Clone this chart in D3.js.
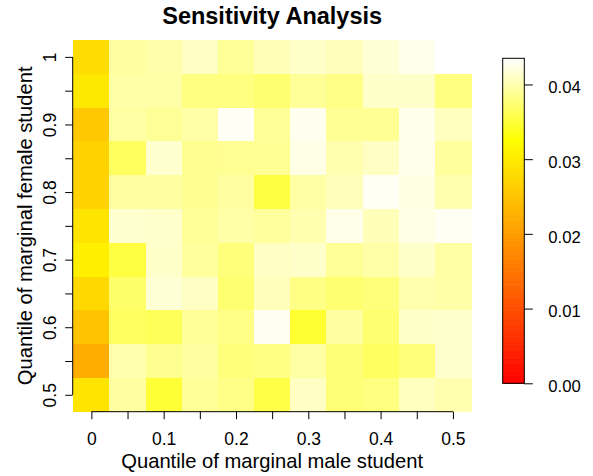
<!DOCTYPE html>
<html>
<head>
<meta charset="utf-8">
<script src="https://cdn.jsdelivr.net/npm/d3@7"></script>
<style>
  body { margin: 0; background: #fff; }
  svg { display: block; font-family: "Liberation Sans", Arial, sans-serif; }
</style>
</head>
<body>
<div id="chart"></div>
<script>
// quantiles of marginal male student (columns) and female student (rows)
const maleQuantiles = [0, 0.05, 0.1, 0.15, 0.2, 0.25, 0.3, 0.35, 0.4, 0.45, 0.5];
const femaleQuantiles = [1, 0.95, 0.9, 0.85, 0.8, 0.75, 0.7, 0.65, 0.6, 0.55, 0.5];

// one row per female quantile (top to bottom), one value per male quantile
const sensitivity = [
  [0.0283, 0.0395, 0.0399, 0.0410, 0.0391, 0.0405, 0.0412, 0.0406, 0.0417, 0.0427, null],
  [0.0297, 0.0398, 0.0398, 0.0381, 0.0381, 0.0374, 0.0391, 0.0384, 0.0412, 0.0412, 0.0381],
  [0.0256, 0.0396, 0.0391, 0.0398, 0.0431, 0.0391, 0.0428, 0.0390, 0.0389, 0.0427, 0.0408],
  [0.0269, 0.0366, 0.0415, 0.0388, 0.0389, 0.0389, 0.0424, 0.0401, 0.0410, 0.0427, 0.0393],
  [0.0269, 0.0395, 0.0395, 0.0388, 0.0395, 0.0354, 0.0396, 0.0406, 0.0430, 0.0422, 0.0400],
  [0.0292, 0.0415, 0.0413, 0.0391, 0.0398, 0.0393, 0.0401, 0.0425, 0.0405, 0.0424, 0.0430],
  [0.0307, 0.0354, 0.0412, 0.0393, 0.0379, 0.0410, 0.0412, 0.0391, 0.0398, 0.0412, 0.0396],
  [0.0276, 0.0371, 0.0417, 0.0410, 0.0374, 0.0406, 0.0383, 0.0374, 0.0379, 0.0400, 0.0398],
  [0.0251, 0.0367, 0.0364, 0.0391, 0.0384, 0.0429, 0.0347, 0.0395, 0.0374, 0.0412, 0.0413],
  [0.0223, 0.0400, 0.0388, 0.0395, 0.0379, 0.0383, 0.0396, 0.0377, 0.0367, 0.0379, 0.0413],
  [0.0292, 0.0395, 0.0350, 0.0391, 0.0384, 0.0357, 0.0410, 0.0377, 0.0381, 0.0408, 0.0401]
];

const xTickLabels = ["0", "0.1", "0.2", "0.3", "0.4", "0.5"];
const yTickLabels = ["0.5", "0.6", "0.7", "0.8", "0.9", "1"];
const legendTicks = [0, 0.01, 0.02, 0.03, 0.04];
const zRange = [0, 0.0435];

const width = 593, height = 476;
const plot = { left: 73.3, right: 471, top: 40, bottom: 411.7 };
const half = 0.025;
const fontFamily = "Liberation Sans, Arial, sans-serif";

const svg = d3.select("#chart").append("svg")
  .attr("width", width)
  .attr("height", height);

const x = d3.scaleLinear()
  .domain([d3.min(maleQuantiles) - half, d3.max(maleQuantiles) + half])
  .range([plot.left, plot.right]);
const y = d3.scaleLinear()
  .domain([d3.min(femaleQuantiles) - half, d3.max(femaleQuantiles) + half])
  .range([plot.bottom, plot.top]);

// heat colours: red -> yellow over the first 3/4, then yellow -> white
function heat(v) {
  const t = Math.max(0, Math.min(1, (v - zRange[0]) / (zRange[1] - zRange[0])));
  if (t <= 0.75) return d3.rgb(255, 255 * t / 0.75, 0);
  return d3.rgb(255, 255, 255 * (t - 0.75) / 0.25);
}

// cells
const cells = [];
sensitivity.forEach((row, i) => {
  row.forEach((v, j) => {
    if (v !== null) cells.push({ mx: maleQuantiles[j], fy: femaleQuantiles[i], v: v });
  });
});

svg.append("g").selectAll("rect")
  .data(cells)
  .enter().append("rect")
  .attr("x", d => x(d.mx - half))
  .attr("y", d => y(d.fy + half))
  .attr("width", d => x(d.mx + half) - x(d.mx - half) + 0.5)
  .attr("height", d => y(d.fy - half) - y(d.fy + half) + 0.5)
  .attr("fill", d => heat(d.v))
  .attr("shape-rendering", "crispEdges");

const labelFormat = d => d3.format("~g")(+d.toFixed(2));

// x axis
const xAxis = svg.append("g")
  .attr("transform", `translate(0,${plot.bottom})`)
  .call(d3.axisBottom(x).tickValues(maleQuantiles).tickSize(7.5)
    .tickFormat(d => xTickLabels.includes(labelFormat(d)) ? labelFormat(d) : ""));
xAxis.select(".domain").remove();
xAxis.append("line")
  .attr("x1", x(maleQuantiles[0])).attr("x2", x(maleQuantiles[maleQuantiles.length - 1]))
  .attr("stroke", "#000");
xAxis.selectAll(".tick line").attr("stroke", "#000");
xAxis.selectAll(".tick text")
  .attr("y", 33).attr("dy", null)
  .attr("font-size", 17.5).attr("fill", "#000")
  .attr("font-family", fontFamily);

// y axis
const yAxis = svg.append("g")
  .attr("transform", `translate(${plot.left - 0.6},0)`)
  .call(d3.axisLeft(y).tickValues(femaleQuantiles).tickSize(7.5)
    .tickFormat(d => yTickLabels.includes(labelFormat(d)) ? labelFormat(d) : ""));
yAxis.select(".domain").remove();
yAxis.append("line")
  .attr("y1", y(femaleQuantiles[0])).attr("y2", y(femaleQuantiles[femaleQuantiles.length - 1]))
  .attr("stroke", "#000");
yAxis.selectAll(".tick line").attr("stroke", "#000");
yAxis.selectAll(".tick text")
  .attr("x", null).attr("dy", null)
  .attr("transform", "translate(-16.5,0) rotate(-90)")
  .attr("text-anchor", "middle")
  .attr("font-size", 17.5).attr("fill", "#000")
  .attr("font-family", fontFamily);

// title and axis titles
const cx = (plot.left + plot.right) / 2;
svg.append("text")
  .attr("x", cx).attr("y", 24)
  .attr("text-anchor", "middle")
  .attr("font-size", 23.5).attr("font-weight", "bold")
  .text("Sensitivity Analysis");

svg.append("text")
  .attr("x", cx).attr("y", 467.5)
  .attr("text-anchor", "middle")
  .attr("font-size", 20.2)
  .text("Quantile of marginal male student");

svg.append("text")
  .attr("transform", `translate(31.5,${(plot.top + plot.bottom) / 2}) rotate(-90)`)
  .attr("text-anchor", "middle")
  .attr("font-size", 20.2)
  .text("Quantile of marginal female student");

// colour legend
const legend = { left: 502.7, right: 524.3, top: 58.3, bottom: 383.3 };
const z = d3.scaleLinear().domain(zRange).range([legend.bottom, legend.top]);
const steps = d3.range(0, 200).map(i => zRange[0] + (zRange[1] - zRange[0]) * (i + 0.5) / 200);
const stepH = (legend.bottom - legend.top) / 200;

svg.append("g").selectAll("rect")
  .data(steps)
  .enter().append("rect")
  .attr("x", legend.left)
  .attr("y", d => z(d) - stepH / 2)
  .attr("width", legend.right - legend.left)
  .attr("height", stepH + 0.6)
  .attr("fill", d => heat(d));

svg.append("rect")
  .attr("x", legend.left).attr("y", legend.top)
  .attr("width", legend.right - legend.left)
  .attr("height", legend.bottom - legend.top)
  .attr("fill", "none").attr("stroke", "#000");

const zAxis = svg.append("g")
  .attr("transform", `translate(${legend.right},0)`)
  .call(d3.axisRight(z).tickValues(legendTicks).tickSize(8.5).tickFormat(d3.format(".2f")));
zAxis.select(".domain").remove();
zAxis.selectAll(".tick line").attr("stroke", "#000");
zAxis.selectAll(".tick text")
  .attr("x", 24).attr("dy", "0.5em")
  .attr("font-size", 16.7).attr("fill", "#000")
  .attr("font-family", fontFamily);
</script>
</body>
</html>
